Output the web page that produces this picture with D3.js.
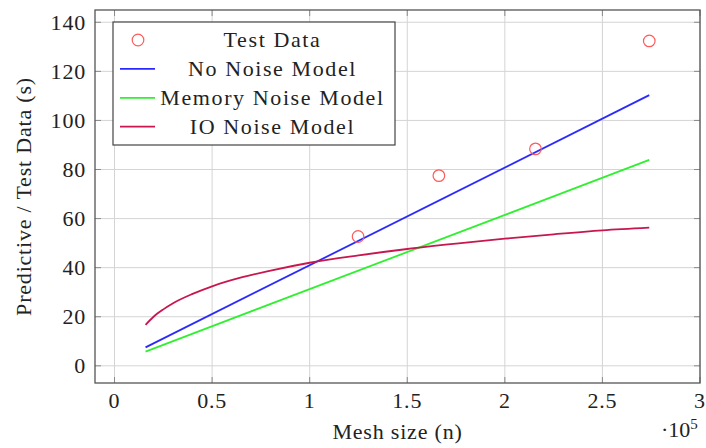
<!DOCTYPE html>
<html>
<head>
<meta charset="utf-8">
<script src="https://cdn.jsdelivr.net/npm/d3@7"></script>
<style>
  html, body { margin: 0; padding: 0; background: #fff; }
</style>
</head>
<body>
<div id="app"></div>
<script>
// x values are in units of 10^5
const xTicks = [0, 0.5, 1, 1.5, 2, 2.5, 3];
const yTicks = [0, 20, 40, 60, 80, 100, 120, 140];

const testX = [1.248, 1.662, 2.157, 2.74];
const testY = [52.7, 77.5, 88.4, 132.4];

const noNoiseX = [0.159, 2.74];
const noNoiseY = [7.5, 110.3];

const memoryX = [0.159, 2.74];
const memoryY = [5.8, 83.9];

const ioX = [0.159, 0.2, 0.25, 0.3, 0.4, 0.5, 0.65, 0.8, 1.0, 1.25, 1.5, 1.75, 2.0, 2.25, 2.5, 2.74];
const ioY = [16.7, 20.0, 23.0, 25.5, 29.3, 32.4, 36.0, 38.8, 42.0, 45.0, 47.6, 49.8, 51.8, 53.6, 55.2, 56.3];

const legendNames = ["Test Data", "No Noise Model", "Memory Noise Model", "IO Noise Model"];

const width = 706, height = 448;
const margin = { top: 10, right: 6, bottom: 65, left: 95 };
const font = "'Liberation Serif', 'DejaVu Serif', serif";

const svg = d3.select("#app").append("svg")
  .attr("width", width)
  .attr("height", height)
  .attr("font-family", font)
  .style("font-family", font);

const x = d3.scaleLinear().domain([-0.1, 3]).range([margin.left, width - margin.right]);
const y = d3.scaleLinear().domain([-7, 145]).range([height - margin.bottom, margin.top]);

const x0 = margin.left, x1 = width - margin.right;
const y0 = height - margin.bottom, y1 = margin.top;

//grid
svg.append("g").selectAll("line").data(xTicks).enter().append("line")
  .attr("x1", d => x(d)).attr("x2", d => x(d))
  .attr("y1", y0).attr("y2", y1)
  .attr("stroke", "#d4d4d4").attr("stroke-width", 1);
svg.append("g").selectAll("line").data(yTicks).enter().append("line")
  .attr("x1", x0).attr("x2", x1)
  .attr("y1", d => y(d)).attr("y2", d => y(d))
  .attr("stroke", "#d4d4d4").attr("stroke-width", 1);

//inner tick marks on all four sides
const tk = 6;
const ticks = svg.append("g").attr("stroke", "#8a8a8a").attr("stroke-width", 1);
xTicks.forEach(t => {
  ticks.append("line").attr("x1", x(t)).attr("x2", x(t)).attr("y1", y0).attr("y2", y0 - tk);
  ticks.append("line").attr("x1", x(t)).attr("x2", x(t)).attr("y1", y1).attr("y2", y1 + tk);
});
yTicks.forEach(t => {
  ticks.append("line").attr("x1", x0).attr("x2", x0 + tk).attr("y1", y(t)).attr("y2", y(t));
  ticks.append("line").attr("x1", x1).attr("x2", x1 - tk).attr("y1", y(t)).attr("y2", y(t));
});

//lines
const line = d3.line().x(d => x(d[0])).y(d => y(d[1])).curve(d3.curveMonotoneX);
const series = [
  { xs: noNoiseX, ys: noNoiseY, color: "#2a2aff" },
  { xs: memoryX, ys: memoryY, color: "#2ef02e" },
  { xs: ioX, ys: ioY, color: "#c8174f" }
];
series.forEach(s => {
  svg.append("path")
    .datum(s.xs.map((v, i) => [v, s.ys[i]]))
    .attr("d", line)
    .attr("fill", "none")
    .attr("stroke", s.color)
    .attr("stroke-width", 1.8);
});

//test data
svg.append("g").selectAll("circle").data(testX).enter().append("circle")
  .attr("cx", d => x(d))
  .attr("cy", (d, i) => y(testY[i]))
  .attr("r", 5.8)
  .attr("fill", "none")
  .attr("stroke", "#ff5a5a")
  .attr("stroke-width", 1.2);

//frame
svg.append("rect")
  .attr("x", x0).attr("y", y1)
  .attr("width", x1 - x0).attr("height", y0 - y1)
  .attr("fill", "none")
  .attr("stroke", "#555").attr("stroke-width", 1.3);

//tick labels
svg.append("g").selectAll("text").data(xTicks).enter().append("text")
  .attr("x", d => x(d))
  .attr("y", 408)
  .attr("text-anchor", "middle")
  .attr("fill", "#222")
  .style("font-size", "22px")
  .style("letter-spacing", "0.8px")
  .text(d => d);
svg.append("g").selectAll("text").data(yTicks).enter().append("text")
  .attr("x", 86)
  .attr("y", d => y(d) + 7.5)
  .attr("text-anchor", "end")
  .attr("fill", "#222")
  .style("font-size", "22px")
  .style("letter-spacing", "0.8px")
  .text(d => d);

//axis labels
svg.append("text")
  .attr("x", (x0 + x1) / 2)
  .attr("y", 439)
  .attr("text-anchor", "middle")
  .attr("fill", "#222")
  .style("font-size", "22px")
  .style("letter-spacing", "0.8px")
  .text("Mesh size (n)");

svg.append("text")
  .attr("transform", `translate(31,${(y0 + y1) / 2}) rotate(-90)`)
  .attr("text-anchor", "middle")
  .attr("fill", "#222")
  .style("font-size", "22px")
  .style("letter-spacing", "0.8px")
  .text("Predictive / Test Data (s)");

const exp = svg.append("text")
  .attr("x", 661)
  .attr("y", 437)
  .attr("fill", "#222")
  .style("font-size", "22px");
exp.append("tspan").text("·10");
exp.append("tspan").attr("dy", -8).style("font-size", "15px").text("5");

//legend
const legend = svg.append("g");
legend.append("rect")
  .attr("x", 113).attr("y", 22)
  .attr("width", 282).attr("height", 123)
  .attr("fill", "#fff")
  .attr("stroke", "#444").attr("stroke-width", 1.2);

const rowY = d3.scaleLinear().domain([0, 3]).range([40, 126.7]);
legendNames.forEach((name, i) => {
  const ry = rowY(i);
  if (i === 0) {
    legend.append("circle")
      .attr("cx", 138).attr("cy", ry).attr("r", 5.8)
      .attr("fill", "none").attr("stroke", "#ff5a5a").attr("stroke-width", 1.2);
  } else {
    legend.append("line")
      .attr("x1", 120).attr("x2", 155)
      .attr("y1", ry).attr("y2", ry)
      .attr("stroke", series[i - 1].color).attr("stroke-width", 1.8);
  }
  legend.append("text")
    .attr("x", 272.5)
    .attr("y", ry + 7)
    .attr("text-anchor", "middle")
    .attr("fill", "#222")
    .style("font-size", "22px")
    .style("letter-spacing", "1.6px")
    .text(name);
});
</script>
</body>
</html>
